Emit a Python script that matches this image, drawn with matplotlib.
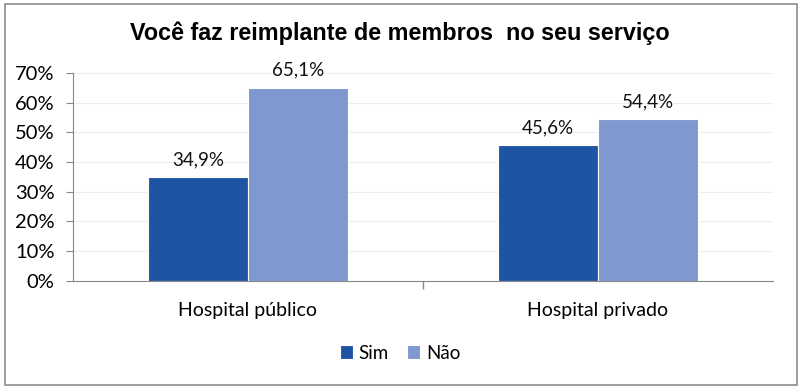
import matplotlib
matplotlib.use('Agg')
import matplotlib.pyplot as plt
from matplotlib.patches import Rectangle
from matplotlib.ticker import FuncFormatter, MultipleLocator
import numpy as np

#%% DATA
categories = ['Hospital público', 'Hospital privado']
sim_values = [34.9, 45.6]
nao_values = [65.1, 54.4]
series_names = ['Sim', 'Não']
title_text = 'Você faz reimplante de membros  no seu serviço'

#%% PLOT
color_sim = '#1F54A5'
color_nao = '#7F98D0'
body_font = ['Lato', 'DejaVu Sans']

fig = plt.figure(figsize=(8.0, 3.88), dpi=100)
ax = fig.add_axes([0.091, 0.276, 0.875, 0.536])

x = np.arange(len(categories))
w = 0.285
b1 = ax.bar(x - w / 2, sim_values, w, color=color_sim, edgecolor='white', linewidth=0.8, label=series_names[0])
b2 = ax.bar(x + w / 2, nao_values, w, color=color_nao, edgecolor='white', linewidth=0.8, label=series_names[1])

# data labels above each bar
for bars, vals in ((b1, sim_values), (b2, nao_values)):
    for rect, v in zip(bars, vals):
        ax.text(rect.get_x() + rect.get_width() / 2, v + 3.0, f'{v:.1f}%'.replace('.', ','),
                ha='center', va='bottom', fontsize=13.5, family=body_font, color='#111111')

ax.set_xlim(-0.5, 1.5)
ax.set_ylim(0, 70)
ax.yaxis.set_major_locator(MultipleLocator(10))
ax.yaxis.set_major_formatter(FuncFormatter(lambda v, p: f'{v:.0f}%'))
ax.set_xticks([0.5])
ax.set_xticklabels([''])
ax.tick_params(axis='x', length=6, color='#888888', width=1)
for i, c in enumerate(categories):
    ax.text(i, -0.1, c, transform=ax.get_xaxis_transform(), ha='center', va='top',
            fontsize=14, family=body_font)
ax.tick_params(axis='y', length=5, color='#888888', labelsize=14.5, pad=8)
for lbl in ax.get_yticklabels():
    lbl.set_family(body_font)
ax.grid(axis='y', color='#EEEEEE', linewidth=0.8)
ax.set_axisbelow(True)
ax.spines['top'].set_visible(False)
ax.spines['left'].set_color('#888888')
ax.spines['bottom'].set_color('#888888')
ax.spines['right'].set_color('#888888')
ax.spines['right'].set_bounds(0, 0)

fig.text(0.5, 0.915, title_text, ha='center', va='center', fontsize=16.8,
         fontweight='bold', family=['Liberation Sans', 'DejaVu Sans'])

leg = fig.legend(loc='center', bbox_to_anchor=(0.5, 0.09), ncol=2, frameon=False,
                 handlelength=0.7, handleheight=0.7, handletextpad=0.3, columnspacing=1.0,
                 prop={'family': body_font, 'size': 13.5})

fig.patches.append(Rectangle((0.006, 0.008), 0.99, 0.982, transform=fig.transFigure,
                             fill=False, edgecolor='#8C8C8C', linewidth=1.2))

fig.savefig('out.png', dpi=100)
